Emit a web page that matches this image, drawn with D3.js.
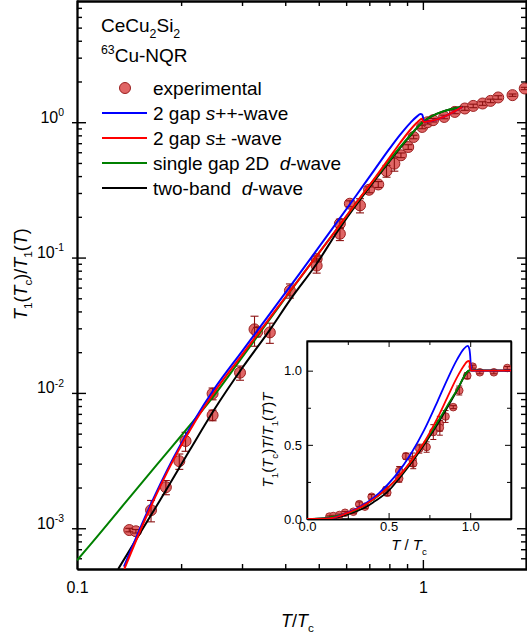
<!DOCTYPE html>
<html>
<head>
<meta charset="utf-8">
<script src="https://cdn.jsdelivr.net/npm/d3@7"></script>
<style>
  body { margin: 0; background: #fff; }
  svg { font-family: "Liberation Sans", Arial, sans-serif; }
</style>
</head>
<body>
<svg id="chart" width="527" height="643"></svg>
<script>
// ---- experimental points, main panel: T/Tc, T1(Tc)/T1(T), relative error
const expT = [0.1416, 0.148, 0.1637, 0.1807, 0.1976, 0.206, 0.2466, 0.2466, 0.296, 0.326, 0.332,
  0.361, 0.4127, 0.493, 0.493, 0.5755, 0.5755, 0.615, 0.658, 0.699, 0.743, 0.785, 0.827, 0.864,
  0.907, 0.94, 0.995, 1.032, 1.07, 1.152, 1.237, 1.322, 1.398, 1.488, 1.569, 1.651, 1.816, 1.97];
const expV = [0.00097, 0.00095, 0.00136, 0.00201, 0.00313, 0.00441, 0.00988, 0.00684, 0.0141, 0.0295, 0.0282,
  0.028, 0.057, 0.0978, 0.0872, 0.178, 0.150, 0.250, 0.243, 0.317, 0.347, 0.436, 0.494, 0.570,
  0.656, 0.778, 0.923, 1.0, 1.035, 1.094, 1.192, 1.263, 1.32, 1.375, 1.438, 1.524, 1.585, 1.776];
const expErr = [0.03, 0.03, 0.18, 0.12, 0.13, 0.16, 0.1, 0.09, 0.12, 0.25, 0.08,
  0.17, 0.12, 0.05, 0.12, 0.08, 0.11, 0.05, 0.12, 0.05, 0.05, 0.1, 0.12, 0.04,
  0.04, 0.03, 0.03, 0.03, 0.03, 0.03, 0.03, 0.03, 0.03, 0.03, 0.03, 0.03, 0.02, 0.02];

// ---- experimental points, inset: T/Tc, T1(Tc)T/T1(T)T, absolute error
const insetT = [0.137, 0.161, 0.198, 0.233, 0.284, 0.32, 0.355, 0.396, 0.484, 0.492, 0.565, 0.565, 0.606, 0.647,
  0.651, 0.688, 0.733, 0.774, 0.814, 0.814, 0.849, 0.896, 0.933, 0.982, 1.015, 1.059, 1.145, 1.227];
const insetV = [0.016, 0.02, 0.027, 0.042, 0.049, 0.1, 0.083, 0.15, 0.195, 0.177, 0.324, 0.273, 0.423, 0.4,
  0.374, 0.474, 0.485, 0.586, 0.642, 0.615, 0.691, 0.754, 0.866, 0.966, 1.027, 0.989, 0.989, 1.018];
const insetErr = [0.005, 0.005, 0.006, 0.008, 0.01, 0.015, 0.012, 0.015, 0.02, 0.02, 0.03, 0.025, 0.02, 0.045,
  0.035, 0.03, 0.035, 0.05, 0.05, 0.05, 0.04, 0.01, 0.03, 0.02, 0.01, 0.01, 0.01, 0.01];

// ---- model curves (main-panel quantity T1(Tc)/T1(T))
const sppT = [0.1367, 0.16, 0.19, 0.22, 0.25, 0.3, 0.365, 0.44, 0.54, 0.64, 0.72, 0.8, 0.86, 0.92, 0.96, 0.985, 0.995, 1.0, 1.006, 1.3];
const sppV = [5.2e-4, 0.00133, 0.0033, 0.00648, 0.0108, 0.0203, 0.0399, 0.0761, 0.156, 0.285, 0.435, 0.635, 0.81, 0.99, 1.10, 1.15, 1.14, 1.10, 1.006, 1.3];
const spmT = [0.137, 0.16, 0.19, 0.22, 0.25, 0.3, 0.365, 0.44, 0.54, 0.64, 0.72, 0.8, 0.86, 0.92, 0.96, 0.978, 0.994, 1.0, 1.005, 1.3];
const spmV = [5.0e-4, 0.00128, 0.0032, 0.0062, 0.0102, 0.0191, 0.0372, 0.070, 0.140, 0.252, 0.375, 0.545, 0.705, 0.88, 0.99, 1.035, 1.06, 1.02, 1.005, 1.3];
const dwT = [0.1, 0.109, 0.136, 0.17, 0.2121, 0.242, 0.3, 0.4127, 0.484, 0.57, 0.672, 0.774, 0.855, 0.917, 0.998, 1.3];
const dwV = [5.8e-4, 7.5e-4, 0.00148, 0.00294, 0.00577, 0.0087, 0.0183, 0.056, 0.0968, 0.168, 0.296, 0.47, 0.645, 0.795, 1.0, 1.3];
const tbT = [0.1316, 0.1738, 0.2121, 0.25, 0.3, 0.361, 0.4127, 0.493, 0.57, 0.672, 0.774, 0.855, 0.917, 0.998, 1.3];
const tbV = [5.0e-4, 0.00161, 0.0038, 0.0076, 0.0152, 0.0292, 0.0485, 0.09, 0.16, 0.288, 0.46, 0.635, 0.79, 1.0, 1.3];

const xMajor = [0.1, 1];
const xMinor = [0.2, 0.3, 0.4, 0.5, 0.6, 0.7, 0.8, 0.9, 2];
const yMajor = [1e-3, 1e-2, 1e-1, 1];
const insetTicks = [0, 0.5, 1.0];

const curves = [
  { name: "two-band", T: tbT, V: tbV, color: "#000000" },
  { name: "2D d", T: dwT, V: dwV, color: "#008000" },
  { name: "s++", T: sppT, V: sppV, color: "#0000ff" },
  { name: "s+-", T: spmT, V: spmV, color: "#ff0000" }
];

const svg = d3.select("#chart");
const ptFill = "#e06666", ptStroke = "#9b2020", errColor = "#8b1010";

// helper: text with italic / sub / superscript pieces
function rich(sel, parts, size) {
  let cur = 0;
  parts.forEach(p => {
    const lvl = p.sub ? size * 0.3 : p.sup ? -size * 0.42 : 0;
    const ts = sel.append("tspan").text(p.t).attr("dy", lvl - cur);
    cur = lvl;
    if (p.i) ts.attr("font-style", "italic");
    if (p.sub || p.sup) ts.attr("font-size", size * 0.65);
  });
  return sel;
}

// ---------- main panel ----------
const x = d3.scaleLog().domain([0.1, 2]).range([77, 527]);
const y = d3.scaleLog().domain([5e-4, 8]).range([569, 0]);

svg.append("clipPath").attr("id", "mainClip")
  .append("rect").attr("x", 77).attr("y", 0).attr("width", 450).attr("height", 569);

const yMinor = [];
[1e-4, 1e-3, 1e-2, 1e-1, 1].forEach(d => {
  for (let k = 2; k <= 9; k++) {
    const v = d * k;
    if (v > 5e-4 && v < 8) yMinor.push(v);
  }
});

// minor ticks all sides
svg.append("g").attr("transform", "translate(0,569)")
  .call(d3.axisBottom(x).tickValues(xMinor).tickSizeInner(-5).tickSizeOuter(0).tickFormat(""));
svg.append("g").attr("transform", "translate(0,1)")
  .call(d3.axisTop(x).tickValues(xMinor).tickSizeInner(-5).tickSizeOuter(0).tickFormat(""));
svg.append("g").attr("transform", "translate(77,0)")
  .call(d3.axisLeft(y).tickValues(yMinor).tickSizeInner(-5).tickSizeOuter(0).tickFormat(""));
svg.append("g").attr("transform", "translate(526,0)")
  .call(d3.axisRight(y).tickValues(yMinor).tickSizeInner(-5).tickSizeOuter(0).tickFormat(""));

// major ticks
const xAx = svg.append("g").attr("transform", "translate(0,569)")
  .call(d3.axisBottom(x).tickValues(xMajor).tickSizeInner(-9).tickSizeOuter(0).tickPadding(13)
    .tickFormat(d => d === 1 ? "1" : "0.1"));
xAx.selectAll("text").attr("font-size", 16).attr("fill", "#000").attr("font-family", null);
svg.append("g").attr("transform", "translate(0,1)")
  .call(d3.axisTop(x).tickValues(xMajor).tickSizeInner(-9).tickSizeOuter(0).tickFormat(""));

const yAx = svg.append("g").attr("transform", "translate(77,0)")
  .call(d3.axisLeft(y).tickValues(yMajor).tickSizeInner(-9).tickSizeOuter(0).tickPadding(13).tickFormat(""));
yAx.selectAll(".tick line").attr("x1", -5);
yAx.selectAll(".tick").append("text")
  .attr("x", -13).attr("dy", "0.3em").attr("text-anchor", "end")
  .attr("font-size", 16).attr("fill", "#000")
  .each(function (d) {
    rich(d3.select(this), [{ t: "10" }, { t: String(Math.round(Math.log10(d))), sup: true }], 16);
  });
svg.append("g").attr("transform", "translate(526,0)")
  .call(d3.axisRight(y).tickValues(yMajor).tickSizeInner(-9).tickSizeOuter(0).tickFormat(""));

svg.selectAll(".domain").attr("stroke-width", 1.8);
svg.selectAll(".tick line").attr("stroke-width", 1.4);

// axis titles
rich(svg.append("text").attr("x", 281).attr("y", 627).attr("font-size", 18),
  [{ t: "T", i: true }, { t: "/" }, { t: "T", i: true }, { t: "c", sub: true }], 18);
rich(svg.append("text").attr("transform", "translate(27,320) rotate(-90)").attr("font-size", 18),
  [{ t: "T", i: true }, { t: "1", sub: true }, { t: "(" }, { t: "T", i: true }, { t: "c", sub: true },
   { t: ")/" }, { t: "T", i: true }, { t: "1", sub: true }, { t: "(" }, { t: "T", i: true }, { t: ")" }], 18);

// points
const main = svg.append("g").attr("clip-path", "url(#mainClip)");
const pts = expT.map((t, i) => ({ t, v: expV[i], e: expErr[i] }));
main.append("g").selectAll("circle").data(pts).join("circle")
  .attr("cx", d => x(d.t)).attr("cy", d => y(d.v)).attr("r", 5.5)
  .attr("fill", ptFill).attr("stroke", ptStroke).attr("stroke-width", 1);
const eb = main.append("g").attr("stroke", errColor).attr("stroke-width", 1.1);
eb.selectAll("line.v").data(pts).join("line").attr("class", "v")
  .attr("x1", d => x(d.t)).attr("x2", d => x(d.t))
  .attr("y1", d => y(d.v * (1 + d.e))).attr("y2", d => y(d.v * (1 - d.e)));
eb.selectAll("line.top").data(pts).join("line").attr("class", "top")
  .attr("x1", d => x(d.t) - 4).attr("x2", d => x(d.t) + 4)
  .attr("y1", d => y(d.v * (1 + d.e))).attr("y2", d => y(d.v * (1 + d.e)));
eb.selectAll("line.bot").data(pts).join("line").attr("class", "bot")
  .attr("x1", d => x(d.t) - 4).attr("x2", d => x(d.t) + 4)
  .attr("y1", d => y(d.v * (1 - d.e))).attr("y2", d => y(d.v * (1 - d.e)));

// curves
const mainLine = d3.line().x(d => x(d[0])).y(d => y(d[1])).curve(d3.curveMonotoneX);
curves.forEach(c => {
  main.append("path")
    .attr("d", mainLine(c.T.map((t, i) => [t, c.V[i]])))
    .attr("fill", "none").attr("stroke", c.color).attr("stroke-width", 2);
});

// legend
const title = svg.append("text").attr("x", 101).attr("y", 32).attr("font-size", 19);
rich(title, [{ t: "CeCu" }, { t: "2", sub: true }, { t: "Si" }, { t: "2", sub: true }], 19);
const nqr = svg.append("text").attr("x", 101).attr("y", 62).attr("font-size", 19);
rich(nqr, [{ t: "63", sup: true }, { t: "Cu-NQR" }], 19);

svg.append("circle").attr("cx", 125).attr("cy", 88).attr("r", 5.5)
  .attr("fill", ptFill).attr("stroke", ptStroke);
svg.append("text").attr("x", 153).attr("y", 95).attr("font-size", 19).text("experimental");
const legRows = [
  { color: "#0000ff", parts: [{ t: "2 gap " }, { t: "s", i: true }, { t: "++-wave" }] },
  { color: "#ff0000", parts: [{ t: "2 gap " }, { t: "s", i: true }, { t: "\u00b1 -wave" }] },
  { color: "#008000", parts: [{ t: "single gap 2D  " }, { t: "d", i: true }, { t: "-wave" }] },
  { color: "#000000", parts: [{ t: "two-band  " }, { t: "d", i: true }, { t: "-wave" }] }
];
legRows.forEach((r, i) => {
  const yy = 113 + i * 25;
  svg.append("line").attr("x1", 102).attr("x2", 147).attr("y1", yy).attr("y2", yy)
    .attr("stroke", r.color).attr("stroke-width", 2);
  rich(svg.append("text").attr("x", 153).attr("y", yy + 7).attr("font-size", 19)
    .attr("xml:space", "preserve").style("white-space", "pre"), r.parts, 19);
});

// ---------- inset ----------
const ix = d3.scaleLinear().domain([0, 1.25]).range([307, 511]);
const iy = d3.scaleLinear().domain([0, 1.2]).range([519, 341]);
const inset = svg.append("g");
inset.append("rect").attr("x", 307).attr("y", 341).attr("width", 204).attr("height", 178)
  .attr("fill", "#fff").attr("stroke", "#000").attr("stroke-width", 1.3);

const ixMinor = [0.25, 0.75, 1.25];
const iyMinor = [0.25, 0.75];
inset.append("g").attr("transform", "translate(0,519)")
  .call(d3.axisBottom(ix).tickValues(ixMinor).tickSizeInner(-4).tickSizeOuter(0).tickFormat(""));
inset.append("g").attr("transform", "translate(0,341)")
  .call(d3.axisTop(ix).tickValues(ixMinor).tickSizeInner(-4).tickSizeOuter(0).tickFormat(""));
inset.append("g").attr("transform", "translate(307,0)")
  .call(d3.axisLeft(iy).tickValues(iyMinor).tickSizeInner(-4).tickSizeOuter(0).tickFormat(""));
inset.append("g").attr("transform", "translate(511,0)")
  .call(d3.axisRight(iy).tickValues(iyMinor).tickSizeInner(-4).tickSizeOuter(0).tickFormat(""));
inset.append("g").attr("transform", "translate(0,519)")
  .call(d3.axisBottom(ix).tickValues(insetTicks).tickSizeInner(-6).tickSizeOuter(0).tickPadding(3)
    .tickFormat(d3.format(".1f")));
inset.append("g").attr("transform", "translate(0,341)")
  .call(d3.axisTop(ix).tickValues(insetTicks).tickSizeInner(-6).tickSizeOuter(0).tickFormat(""));
inset.append("g").attr("transform", "translate(307,0)")
  .call(d3.axisLeft(iy).tickValues(insetTicks).tickSizeInner(-6).tickSizeOuter(0).tickPadding(5)
    .tickFormat(d3.format(".1f")));
inset.append("g").attr("transform", "translate(511,0)")
  .call(d3.axisRight(iy).tickValues(insetTicks).tickSizeInner(-6).tickSizeOuter(0).tickFormat(""));
inset.selectAll("text").attr("font-size", 13).attr("fill", "#000").attr("font-family", null);
inset.selectAll(".domain").attr("stroke-width", 1.3);

rich(inset.append("text").attr("x", 409).attr("y", 550).attr("text-anchor", "middle").attr("font-size", 15)
  .attr("xml:space", "preserve").style("white-space", "pre"),
  [{ t: "T", i: true }, { t: " / " }, { t: "T", i: true }, { t: "c", sub: true }], 15);
rich(inset.append("text").attr("transform", "translate(273,440) rotate(-90)").attr("text-anchor", "middle").attr("font-size", 15),
  [{ t: "T", i: true }, { t: "1", sub: true }, { t: "(" }, { t: "T", i: true }, { t: "c", sub: true }, { t: ")" },
   { t: "T", i: true }, { t: "/" }, { t: "T", i: true }, { t: "1", sub: true }, { t: "(" }, { t: "T", i: true },
   { t: ")" }, { t: "T", i: true }], 15);

svg.append("clipPath").attr("id", "insetClip")
  .append("rect").attr("x", 307).attr("y", 341).attr("width", 204).attr("height", 178);
const ig = inset.append("g").attr("clip-path", "url(#insetClip)");
const ipts = insetT.map((t, i) => ({ t, v: insetV[i], e: insetErr[i] }));
ig.append("g").selectAll("circle").data(ipts).join("circle")
  .attr("cx", d => ix(d.t)).attr("cy", d => iy(d.v)).attr("r", 3.8)
  .attr("fill", ptFill).attr("stroke", ptStroke).attr("stroke-width", 0.9);
const ieb = ig.append("g").attr("stroke", errColor).attr("stroke-width", 1);
ieb.selectAll("line.v").data(ipts).join("line").attr("class", "v")
  .attr("x1", d => ix(d.t)).attr("x2", d => ix(d.t))
  .attr("y1", d => iy(d.v + d.e)).attr("y2", d => iy(d.v - d.e));
ieb.selectAll("line.top").data(ipts).join("line").attr("class", "top")
  .attr("x1", d => ix(d.t) - 3).attr("x2", d => ix(d.t) + 3)
  .attr("y1", d => iy(d.v + d.e)).attr("y2", d => iy(d.v + d.e));
ieb.selectAll("line.bot").data(ipts).join("line").attr("class", "bot")
  .attr("x1", d => ix(d.t) - 3).attr("x2", d => ix(d.t) + 3)
  .attr("y1", d => iy(d.v - d.e)).attr("y2", d => iy(d.v - d.e));

// inset curves: same models shown as T1(Tc)Tc / T1(T)T, starting from the origin
const insetLine = d3.line().x(d => ix(d[0])).y(d => iy(d[1])).curve(d3.curveMonotoneX);
curves.forEach(c => {
  const series = [[0, 0]].concat(c.T.map((t, i) => [t, c.V[i] / t]));
  ig.append("path").attr("d", insetLine(series))
    .attr("fill", "none").attr("stroke", c.color).attr("stroke-width", 1.8);
});
</script>
</body>
</html>
